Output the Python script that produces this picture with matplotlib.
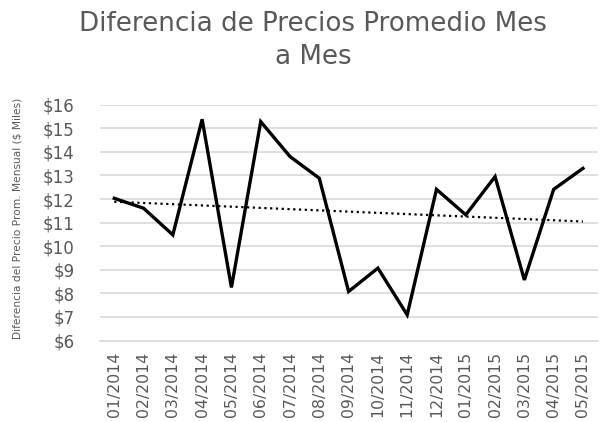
import numpy as np
import matplotlib.pyplot as plt

months = ["01/2014", "02/2014", "03/2014", "04/2014", "05/2014", "06/2014",
          "07/2014", "08/2014", "09/2014", "10/2014", "11/2014", "12/2014",
          "01/2015", "02/2015", "03/2015", "04/2015", "05/2015"]
diff_values = [12.03, 11.61, 10.48, 15.38, 8.25, 15.28, 13.80, 12.88, 8.08,
               9.07, 7.09, 12.41, 11.33, 12.95, 8.57, 12.41, 13.30]
y_ticks = [6, 7, 8, 9, 10, 11, 12, 13, 14, 15, 16]

gray = "#595959"

fig = plt.figure(figsize=(6, 4.22), dpi=100)
ax = fig.add_axes([0.166, 0.193, 0.83, 0.559])

x = np.arange(len(months))
ax.plot(x, diff_values, color="black", linewidth=2.4, solid_joinstyle="miter", zorder=3)

# linear trend line
coef = np.polyfit(x, diff_values, 1)
ax.plot(x, np.polyval(coef, x), color="black", linestyle=(0, (1, 1.6)), linewidth=1.6, zorder=2)

ax.set_xlim(-0.5, len(months) - 0.5)
ax.set_ylim(6, 16)
ax.set_yticks(y_ticks)
ax.set_yticklabels(["$%d" % v for v in y_ticks], color=gray, fontsize=12)
ax.set_xticks(x)
ax.set_xticklabels(months, rotation=90, color=gray, fontsize=11.3)
ax.tick_params(length=0)
ax.tick_params(axis="y", pad=18)
ax.tick_params(axis="x", pad=8)
ax.grid(axis="y", color="#d9d9d9", linewidth=1.2)
ax.set_axisbelow(True)
for side in ["top", "right", "left"]:
    ax.spines[side].set_visible(False)
ax.spines["bottom"].set_color("#d9d9d9")
ax.spines["bottom"].set_linewidth(1.2)

ax.set_ylabel("Diferencia del Precio Prom. Mensual ($ Miles)", color=gray, fontsize=7.7)
ax.yaxis.set_label_coords(-0.155, 0.52)
fig.text(0.522, 0.943, "Diferencia de Precios Promedio Mes", ha="center", va="center",
         color=gray, fontsize=18.8)
fig.text(0.522, 0.866, "a Mes", ha="center", va="center", color=gray, fontsize=18.8)

fig.savefig("out.png", dpi=100)
